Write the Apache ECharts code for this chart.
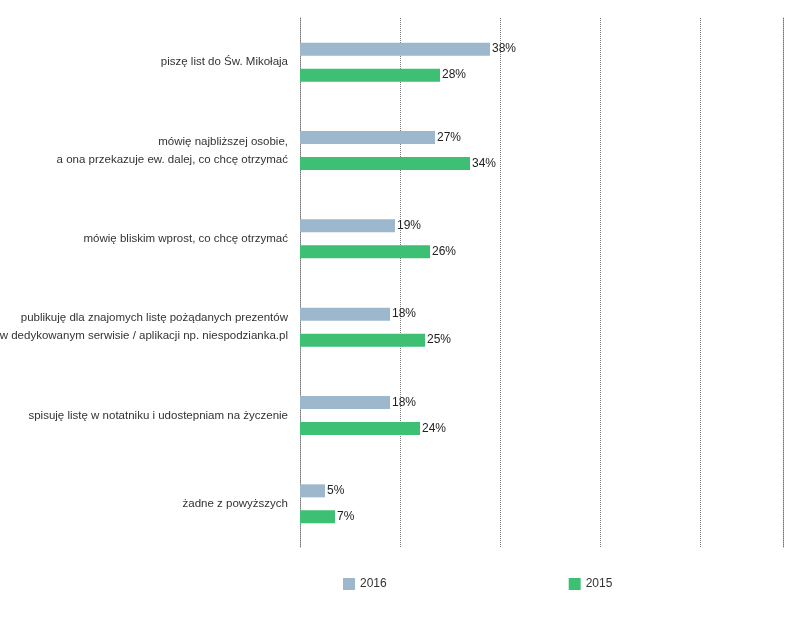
<!DOCTYPE html>
<html>
<head>
<meta charset="utf-8">
<script src="https://cdn.jsdelivr.net/npm/echarts@6/dist/echarts.min.js"></script>
</head>
<body style="margin:0;background:#fff">
<div id="chart" style="width:800px;height:617px;"></div>
<script>
var categories = [
    'piszę list do Św. Mikołaja',
    'mówię najbliższej osobie,\na ona przekazuje ew. dalej, co chcę otrzymać',
    'mówię bliskim wprost, co chcę otrzymać',
    'publikuję dla znajomych listę pożądanych prezentów\nw dedykowanym serwisie / aplikacji np. niespodzianka.pl',
    'spisuję listę w notatniku i udostepniam na życzenie',
    'żadne z powyższych'
];
var values2016 = [38, 27, 19, 18, 18, 5];
var values2015 = [28, 34, 26, 25, 24, 7];

var chart = echarts.init(document.getElementById('chart'));
var font = 'Helvetica, "Liberation Sans", Arial, sans-serif';
var lbl = { show: true, position: 'right', distance: 2, formatter: '{c}%', color: '#222', fontSize: 12, fontFamily: font };

chart.setOption({
    textStyle: { fontFamily: font },
    grid: { left: 300, right: 17, top: 18, bottom: 69, containLabel: false, outerBoundsMode: 'none' },
    legend: {
        bottom: 22, left: 338, itemWidth: 12, itemHeight: 12, itemGap: 182,
        icon: 'rect',
        textStyle: { color: '#333', fontSize: 12 },
        data: ['2016', '2015']
    },
    xAxis: {
        type: 'value', min: 0, max: 96.6, interval: 20,
        axisLabel: { show: false }, axisTick: { show: false }, axisLine: { show: false },
        splitLine: { show: true, lineStyle: { type: 'dotted', color: '#777', width: 1 } }
    },
    yAxis: [{
        type: 'category', inverse: true, data: categories,
        axisTick: { show: false },
        axisLine: { show: true, lineStyle: { type: 'dotted', color: '#777' } },
        axisLabel: { color: '#333', fontSize: 11.5, lineHeight: 18, margin: 12 }
    }, {
        type: 'category', inverse: true, data: categories, position: 'right',
        axisTick: { show: false }, axisLabel: { show: false },
        axisLine: { show: true, lineStyle: { type: 'dotted', color: '#777' } }
    }],
    series: [
        { name: '2016', type: 'bar', data: values2016, barWidth: 13, barGap: '100%',
          itemStyle: { color: '#9db8cc' }, label: lbl },
        { name: '2015', type: 'bar', data: values2015, barWidth: 13,
          itemStyle: { color: '#3dbf74' }, label: lbl }
    ]
});
</script>
</body>
</html>
